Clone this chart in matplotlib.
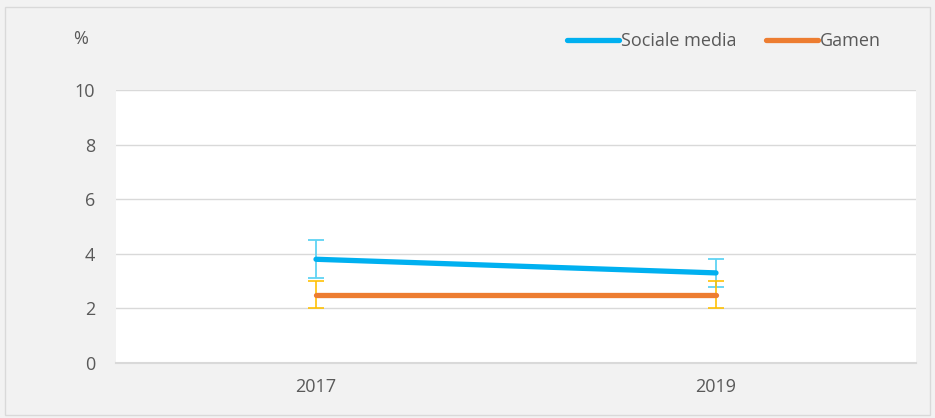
import matplotlib
matplotlib.use("Agg")
import matplotlib.pyplot as plt
from matplotlib.patches import Rectangle
from matplotlib.lines import Line2D

plt.rcParams['font.family'] = ['Open Sans', 'DejaVu Sans']

# Data
years = ["2017", "2019"]
sociale_media = [3.8, 3.3]
sociale_media_err = [0.7, 0.5]
gamen = [2.5, 2.5]
gamen_err = [0.5, 0.5]
y_ticks = [0, 2, 4, 6, 8, 10]

text_color = "#595959"
grid_color = "#d9d9d9"
bg_color = "#f2f2f2"
blue = "#00b0f0"
orange = "#ed7d31"

fig = plt.figure(figsize=(9.35, 4.18), dpi=100, facecolor=bg_color)
ax = fig.add_axes([116 / 935, 55 / 418, 800 / 935, 273 / 418])
ax.set_facecolor("white")

# outer chart frame
fig.patches.append(Rectangle((5 / 935, 3 / 418), 925 / 935, 408 / 418,
                             transform=fig.transFigure, fill=False,
                             edgecolor=grid_color, linewidth=1.0))

x = list(range(len(years)))

# error bars below the lines
ax.errorbar(x, sociale_media, yerr=sociale_media_err, fmt="none",
            ecolor="#5fd3f3", elinewidth=1.3, capsize=5.5, capthick=1.3,
            zorder=2)
ax.errorbar(x, gamen, yerr=gamen_err, fmt="none",
            ecolor="#ffc000", elinewidth=1.3, capsize=5.5, capthick=1.3,
            zorder=2, alpha=0.9)

ax.plot(x, sociale_media, color=blue, linewidth=3.8, solid_capstyle="round",
        zorder=3)
ax.plot(x, gamen, color=orange, linewidth=3.8, solid_capstyle="round",
        zorder=3)

ax.set_xlim(-0.5, len(years) - 0.5)
ax.set_ylim(0, 10)
ax.set_yticks(y_ticks)
ax.set_yticklabels([str(v) for v in y_ticks])
ax.set_xticks(x)
ax.set_xticklabels(years)

ax.grid(axis="y", color=grid_color, linewidth=1.0, zorder=1)
ax.set_axisbelow(True)
for side in ["left", "right", "top"]:
    ax.spines[side].set_visible(False)
ax.spines["bottom"].set_color(grid_color)
ax.spines["bottom"].set_linewidth(1.5)

ax.tick_params(axis="both", length=0, labelsize=13, colors=text_color)
ax.tick_params(axis="y", pad=15)
ax.tick_params(axis="x", pad=11)

fig.text(81 / 935, 1 - 39 / 418, "%", ha="center", va="center",
         fontsize=13, color=text_color)

handles = [Line2D([], [], color=blue, linewidth=3.8, solid_capstyle="round"),
           Line2D([], [], color=orange, linewidth=3.8, solid_capstyle="round")]
fig.legend(handles, ["Sociale media", "Gamen"], loc="center right",
           bbox_to_anchor=(888 / 935, 1 - 41 / 418), ncol=2, frameon=False,
           fontsize=13, labelcolor=text_color, handlelength=2.9,
           handletextpad=0.1, columnspacing=1.6, borderaxespad=0)

fig.savefig("out.png", dpi=100, facecolor=bg_color)
